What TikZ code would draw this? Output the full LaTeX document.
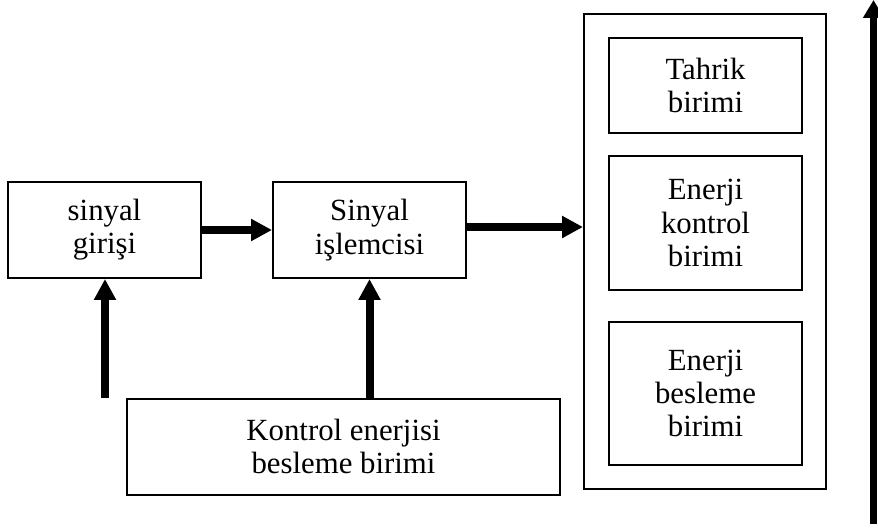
\documentclass[tikz,border=0pt]{standalone}
\usepackage{fontspec}
\setmainfont{Liberation Serif}
\usetikzlibrary{arrows.meta}
\begin{document}
\begin{tikzpicture}[x=0.5pt,y=-0.5pt,
  blk/.style={draw, line width=1pt, rectangle, align=center, inner sep=0pt,
    font=\fontsize{15.4}{16.6}\selectfont},
  thick arrow/.style={line width=4pt, -{Triangle[length=10.5pt,width=10.5pt]}, shorten >=0pt},
  side arrow/.style={line width=3.5pt, -{Triangle[length=9pt,width=10pt]}}]
\useasboundingbox (0,0) rectangle (878,529);
\node[blk, minimum width=96.5pt, minimum height=48pt] (gir) at (104.5,230) {sinyal\\girişi};
\node[blk, minimum width=96.5pt, minimum height=48pt] (isl) at (369.5,230) {Sinyal\\işlemcisi};
\node[blk, minimum width=121pt, minimum height=237.5pt] (outer) at (705,251.5) {};
\node[blk, minimum width=96.5pt, minimum height=47.5pt] (tah) at (705.5,85.5) {Tahrik\\birimi};
\node[blk, minimum width=96.5pt, minimum height=67pt] (ek) at (705.5,223) {Enerji\\kontrol\\birimi};
\node[blk, minimum width=96.5pt, minimum height=71.5pt] (eb) at (705.5,393.5) {Enerji\\besleme\\birimi};
\node[blk, minimum width=216.5pt, minimum height=48pt] (kon) at (343.5,446.5) {Kontrol enerjisi\\besleme birimi};
\coordinate (in1) at (105,398);
\coordinate (rb) at (873.5,524);
\coordinate (rt) at (873.5,0);
\draw[thick arrow] (gir.east) -- (isl.west);
\draw[thick arrow] ([yshift=1.5pt]isl.east) -- ([yshift=1.5pt]isl.east -| outer.west);
\draw[thick arrow] (in1) -- (in1 |- gir.south);
\draw[thick arrow] (isl.south |- kon.north) -- (isl.south);
\draw[side arrow] (rb) -- (rt);
\end{tikzpicture}
\end{document}
